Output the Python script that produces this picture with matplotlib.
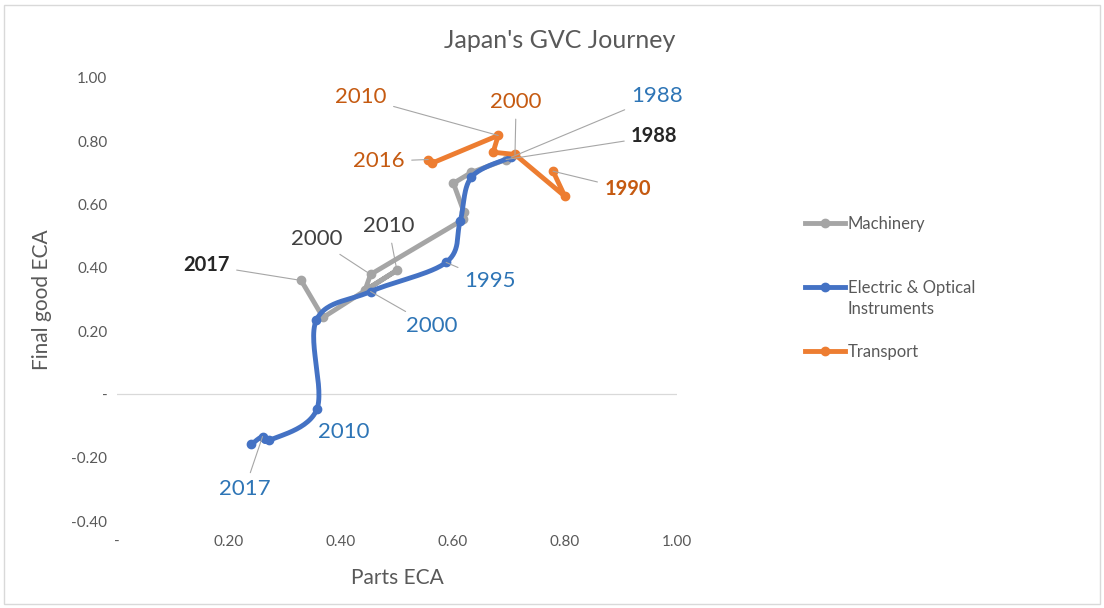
import numpy as np
import matplotlib.pyplot as plt
from matplotlib.lines import Line2D
from matplotlib.patches import Rectangle

plt.rcParams['font.family'] = ['Lato', 'DejaVu Sans']

# Machinery (gray), ordered 1988 -> 2017
mach_x = [0.695, 0.633, 0.601, 0.620, 0.619, 0.453, 0.443, 0.500, 0.368, 0.329]
mach_y = [0.742, 0.701, 0.667, 0.575, 0.553, 0.379, 0.329, 0.392, 0.243, 0.360]

# Electric & Optical Instruments (blue), 1988 -> 2017
elec_x = [0.704, 0.633, 0.613, 0.588, 0.453, 0.356, 0.357, 0.272, 0.260, 0.240]
elec_y = [0.749, 0.686, 0.547, 0.417, 0.325, 0.234, -0.047, -0.145, -0.133, -0.158]

# Transport (orange), 1990 -> 2016
tran_x = [0.779, 0.800, 0.711, 0.672, 0.681, 0.562, 0.556]
tran_y = [0.705, 0.626, 0.758, 0.765, 0.818, 0.730, 0.742]

xticks = [0, 0.2, 0.4, 0.6, 0.8, 1.0]
yticks = [-0.4, -0.2, 0, 0.2, 0.4, 0.6, 0.8, 1.0]

GRAY = '#A5A5A5'
BLUE = '#4472C4'
ORANGE = '#ED7D31'
TXT = '#595959'
LEAD = '#A6A6A6'

# (series, point index, label, label x, label y, colour, bold, leader)
labels = [
    ('t', 4, '2010', 0.436, 0.938, '#C55A11', False, True),
    ('t', 2, '2000', 0.713, 0.923, '#C55A11', False, True),
    ('t', 6, '2016', 0.468, 0.736, '#C55A11', False, True),
    ('t', 0, '1990', 0.912, 0.648, '#C55A11', True, True),
    ('e', 0, '1988', 0.965, 0.942, '#2E75B6', False, True),
    ('m', 0, '1988', 0.960, 0.815, '#262626', True, True),
    ('m', 9, '2017', 0.160, 0.408, '#262626', True, True),
    ('m', 5, '2000', 0.357, 0.490, '#404040', False, True),
    ('m', 7, '2010', 0.485, 0.531, '#404040', False, True),
    ('e', 3, '1995', 0.667, 0.357, '#2E75B6', False, True),
    ('e', 4, '2000', 0.562, 0.215, '#2E75B6', False, True),
    ('e', 6, '2010', 0.405, -0.120, '#2E75B6', False, False),
    ('e', 8, '2017', 0.228, -0.300, '#2E75B6', False, True),
]


def catmull_rom(xs, ys, n=30):
    # Excel-style smoothed line through the points
    p = np.column_stack([xs, ys])
    p = np.vstack([p[0], p, p[-1]])
    out = []
    t = np.linspace(0, 1, n)[:, None]
    for i in range(1, len(p) - 2):
        p0, p1, p2, p3 = p[i - 1], p[i], p[i + 1], p[i + 2]
        seg = 0.5 * ((2 * p1) + (-p0 + p2) * t
                     + (2 * p0 - 5 * p1 + 4 * p2 - p3) * t ** 2
                     + (-p0 + 3 * p1 - 3 * p2 + p3) * t ** 3)
        out.append(seg)
    out = np.vstack(out)
    return out[:, 0], out[:, 1]


fig = plt.figure(figsize=(11.04, 6.08), dpi=100)
ax = fig.add_axes([0.106, 0.143, 0.507, 0.729])

lw = 3.5
ms = 6
ax.plot(mach_x, mach_y, color=GRAY, lw=lw, solid_joinstyle='round',
        solid_capstyle='round', zorder=3)
ax.plot(mach_x, mach_y, 'o', color=GRAY, ms=ms, zorder=3)

sx, sy = catmull_rom(elec_x, elec_y)
ax.plot(sx, sy, color=BLUE, lw=lw, solid_capstyle='round', zorder=4)
ax.plot(elec_x, elec_y, 'o', color=BLUE, ms=ms, zorder=4)

ax.plot(tran_x, tran_y, color=ORANGE, lw=lw, solid_joinstyle='round',
        solid_capstyle='round', zorder=5)
ax.plot(tran_x, tran_y, 'o', color=ORANGE, ms=ms, zorder=5)

series = {'m': (mach_x, mach_y), 'e': (elec_x, elec_y), 't': (tran_x, tran_y)}
for key, idx, txt, lx, ly, col, bold, lead in labels:
    px, py = series[key][0][idx], series[key][1][idx]
    props = None
    if lead:
        props = dict(arrowstyle='-', color=LEAD, lw=0.8, shrinkA=3, shrinkB=0)
    ax.annotate(txt, xy=(px, py), xytext=(lx, ly), ha='center', va='center',
                fontsize=14.5 if bold else 16, color=col,
                fontweight='bold' if bold else 'normal',
                arrowprops=props, zorder=6)

ax.axhline(0, color='#D9D9D9', lw=0.9, zorder=1)
ax.set_xlim(0, 1.0)
ax.set_ylim(-0.4, 1.0)
ax.set_xticks(xticks)
ax.set_xticklabels(['-' if v == 0 else f'{v:.2f}' for v in xticks])
ax.set_yticks(yticks)
ax.set_yticklabels(['-' if v == 0 else f'{v:.2f}' for v in yticks])
ax.tick_params(length=0, colors=TXT, labelsize=11)
ax.tick_params(axis='y', pad=7)
ax.tick_params(axis='x', pad=10)
for s in ax.spines.values():
    s.set_visible(False)

ax.set_xlabel('Parts ECA', fontsize=15, color=TXT, labelpad=14)
ax.set_ylabel('Final good ECA', fontsize=15, color=TXT, labelpad=14)
fig.text(0.507, 0.934, "Japan's GVC Journey", ha='center', va='center',
         fontsize=18, color=TXT)

# legend: one block per series so the row gaps match the original
h_m = Line2D([], [], marker='o', color=GRAY, lw=lw, ms=ms)
h_e = Line2D([], [], marker='o', color=BLUE, lw=lw, ms=ms)
h_t = Line2D([], [], marker='o', color=ORANGE, lw=lw, ms=ms)
blank = Line2D([], [], color='none')
leg_rows = [
    ([h_m], ['Machinery'], 0.632),
    ([h_e, blank], ['Electric & Optical', 'Instruments'], 0.509),
    ([h_t], ['Transport'], 0.421),
]
for handles, names, ypos in leg_rows:
    leg = fig.legend(handles, names, loc='center left',
                     bbox_to_anchor=(0.722, ypos), frameon=False,
                     fontsize=12, labelcolor=TXT, handlelength=2.4,
                     handletextpad=0.15, labelspacing=0.32, borderpad=0)

fig.add_artist(Rectangle((0.004, 0.006), 0.992, 0.986, transform=fig.transFigure,
                         fill=False, edgecolor='#D9D9D9', lw=1))

fig.savefig('out.png', dpi=100)
